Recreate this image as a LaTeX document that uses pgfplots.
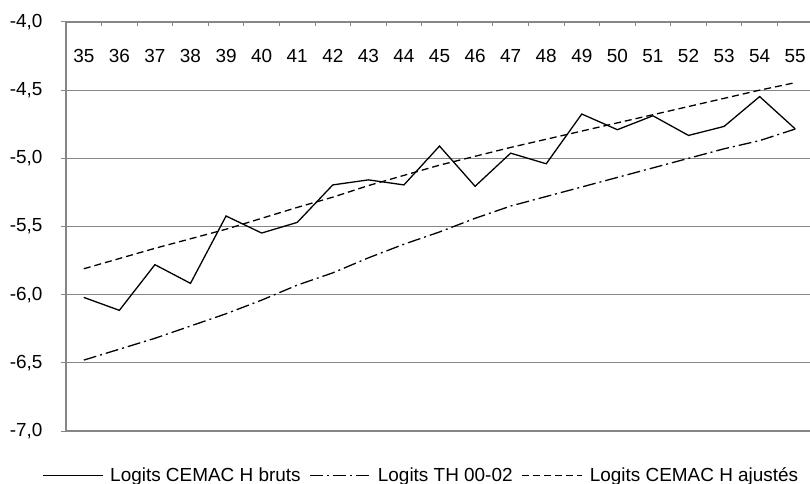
\documentclass[border=0pt]{standalone}
\usepackage{fontspec}
\setmainfont{Liberation Sans}
\usepackage{pgfplots}
\pgfplotsset{compat=1.18}
\definecolor{gridgray}{HTML}{868686}
\begin{document}
\begin{tikzpicture}[font=\fontsize{19}{22}\selectfont]
\begin{axis}[
  scale only axis,
  at={(66bp,53bp)}, anchor=south west,
  width=747bp, height=409bp,
  xmin=34.5, xmax=55.5,
  ymin=-7, ymax=-4,
  axis x line*=top,
  axis y line*=left,
  axis line style={draw=gridgray, line width=1.4pt},
  ytick={-7,-6.5,...,-4},
  yticklabels={{-7,0},{-6,5},{-6,0},{-5,5},{-5,0},{-4,5},{-4,0}},
  xtick={35,...,55},
  xticklabels={35,36,37,38,39,40,41,42,43,44,45,46,47,48,49,50,51,52,53,54,55},
  minor x tick num=1,
  ymajorgrids,
  major grid style={draw=gridgray, line width=1.1pt},
  tick align=outside,
  major tick length=5bp,
  minor tick length=4bp,
  major x tick style={draw=none},
  minor x tick style={draw=gridgray, line width=1pt, yshift=-4bp},
  major y tick style={draw=gridgray, line width=1pt},
  xticklabel style={anchor=center, yshift=-39bp, font=\fontsize{19}{22}\selectfont},
  yticklabel style={xshift=-15bp, font=\fontsize{19}{22}\selectfont},
  clip=false,
  legend columns=-1,
  legend style={at={(rel axis cs:0.474,-0.108)}, anchor=center, draw=none, fill=none,
    font=\fontsize{19}{22}\selectfont, inner sep=0pt, nodes={inner sep=0pt},
    /tikz/every odd column/.append style={column sep=7bp},
    /tikz/every even column/.append style={column sep=9bp}},
  legend image code/.code={\draw[#1] (0bp,0bp) -- (60bp,0bp);},
]
\addplot[black, line width=1.3pt] coordinates {
(35,-6.02) (36,-6.115) (37,-5.78) (38,-5.917) (39,-5.423) (40,-5.548)
(41,-5.47) (42,-5.195) (43,-5.158) (44,-5.195) (45,-4.91) (46,-5.205)
(47,-4.962) (48,-5.04) (49,-4.675) (50,-4.79) (51,-4.688) (52,-4.832)
(53,-4.766) (54,-4.547) (55,-4.784)};
\addlegendentry{Logits CEMAC H bruts}
\addplot[black, line width=1.3pt, dash pattern=on 13bp off 4bp on 2bp off 4bp] coordinates {
(35,-6.48) (36,-6.40) (37,-6.32) (38,-6.23) (39,-6.14) (40,-6.04)
(41,-5.93) (42,-5.84) (43,-5.73) (44,-5.63) (45,-5.54) (46,-5.44)
(47,-5.35) (48,-5.28) (49,-5.21) (50,-5.14) (51,-5.07) (52,-5.00)
(53,-4.93) (54,-4.87) (55,-4.785)};
\addlegendentry{Logits TH 00-02}
\addplot[black, line width=1.3pt, dash pattern=on 7bp off 4bp] coordinates {
(35,-5.81) (36,-5.735) (37,-5.66) (38,-5.59) (39,-5.52) (40,-5.44)
(41,-5.36) (42,-5.285) (43,-5.20) (44,-5.125) (45,-5.05) (46,-4.985)
(47,-4.92) (48,-4.86) (49,-4.80) (50,-4.74) (51,-4.68) (52,-4.62)
(53,-4.56) (54,-4.50) (55,-4.445)};
\addlegendentry{Logits CEMAC H ajustés}
\end{axis}
\pgfresetboundingbox
\path[use as bounding box] (0,0) rectangle (810bp,484bp);
\end{tikzpicture}
\end{document}
